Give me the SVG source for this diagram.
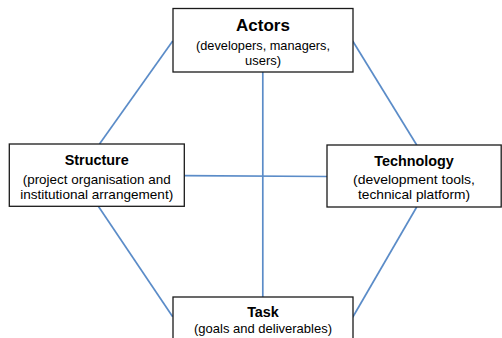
<svg xmlns="http://www.w3.org/2000/svg" width="502" height="338" viewBox="0 0 502 338">
  <style>
    .link { stroke: #5b8cc8; stroke-width: 1.7; fill: none; }
    .box { fill: #ffffff; stroke: #1a1a1a; stroke-width: 1.3; }
    .title { font-family: "Liberation Sans", Arial, sans-serif; font-weight: bold; fill: #000; text-anchor: middle; }
    .sub { font-family: "Liberation Sans", Arial, sans-serif; font-size: 13.3px; fill: #000; text-anchor: middle; }
  </style>
  <rect width="502" height="338" fill="#ffffff"/>

  <!-- connectors between the four socio-technical elements -->
  <g id="connectors">
    <line class="link" x1="172.7" y1="41" x2="99.5" y2="144"/>
    <line class="link" x1="352.7" y1="41" x2="416.7" y2="145"/>
    <line class="link" x1="98.5" y1="206.5" x2="172.7" y2="316.7"/>
    <line class="link" x1="416.7" y1="207" x2="352.7" y2="317.3"/>
    <line class="link" x1="184" y1="175.7" x2="327" y2="176.5"/>
    <line class="link" x1="262.8" y1="72" x2="262.8" y2="297"/>
  </g>

  <g id="actors">
    <rect class="box" x="173" y="8.5" width="180" height="63.5"/>
    <text class="title" x="263" y="30.5" font-size="17">Actors</text>
    <text class="sub" x="263" y="50" textLength="134" lengthAdjust="spacingAndGlyphs">(developers, managers,</text>
    <text class="sub" x="263" y="64.5" textLength="36" lengthAdjust="spacingAndGlyphs">users)</text>
  </g>

  <g id="structure">
    <rect class="box" x="9.3" y="144" width="175" height="62.3"/>
    <text class="title" x="96.7" y="165" font-size="14.4">Structure</text>
    <text class="sub" x="96.7" y="184.3" textLength="148" lengthAdjust="spacingAndGlyphs">(project organisation and</text>
    <text class="sub" x="96.7" y="199.3" textLength="153" lengthAdjust="spacingAndGlyphs">institutional arrangement)</text>
  </g>

  <g id="technology">
    <rect class="box" x="327" y="145" width="174.2" height="62"/>
    <text class="title" x="414" y="166" font-size="14.4">Technology</text>
    <text class="sub" x="414" y="183.5" textLength="122" lengthAdjust="spacingAndGlyphs">(development tools,</text>
    <text class="sub" x="414" y="199.3" textLength="112" lengthAdjust="spacingAndGlyphs">technical platform)</text>
  </g>

  <g id="task">
    <rect class="box" x="173" y="297" width="180" height="60"/>
    <text class="title" x="263" y="316.7" font-size="14.4">Task</text>
    <text class="sub" x="263" y="333.3" textLength="138" lengthAdjust="spacingAndGlyphs">(goals and deliverables)</text>
  </g>
</svg>
